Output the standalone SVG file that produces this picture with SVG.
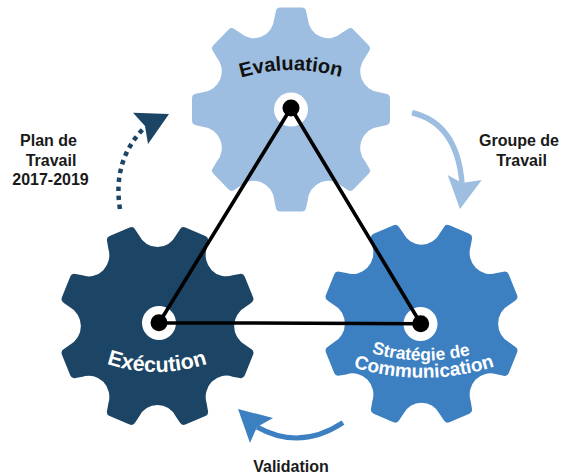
<svg xmlns="http://www.w3.org/2000/svg" xmlns:xlink="http://www.w3.org/1999/xlink" width="561" height="474" viewBox="0 0 561 474">
<style>
text{font-family:"Liberation Sans",Arial,sans-serif;font-weight:bold}
.lbl{font-size:16px;fill:#1a1a1a;text-anchor:middle}
.arc{text-anchor:middle}
.hole{fill:#fff}
.dot{fill:#000}
.link{stroke:#000;stroke-width:3.6;fill:none;stroke-linecap:round}
</style>
<defs>
<path id="gear" d="M-17,-90L-15.5,-97Q-15,-101 -11,-101L11,-101Q15,-101 15.5,-97L17,-90A21,21 0 0 0 51.6,-75.7L57.6,-79.5Q60.8,-82 63.6,-79.2L79.2,-63.6Q82,-60.8 79.5,-57.6L75.7,-51.6A21,21 0 0 0 90,-17L97,-15.5Q101,-15 101,-11L101,11Q101,15 97,15.5L90,17A21,21 0 0 0 75.7,51.6L79.5,57.6Q82,60.8 79.2,63.6L63.6,79.2Q60.8,82 57.6,79.5L51.6,75.7A21,21 0 0 0 17,90L15.5,97Q15,101 11,101L-11,101Q-15,101 -15.5,97L-17,90A21,21 0 0 0 -51.6,75.7L-57.6,79.5Q-60.8,82 -63.6,79.2L-79.2,63.6Q-82,60.8 -79.5,57.6L-75.7,51.6A21,21 0 0 0 -90,17L-97,15.5Q-101,15 -101,11L-101,-11Q-101,-15 -97,-15.5L-90,-17A21,21 0 0 0 -75.7,-51.6L-79.5,-57.6Q-82,-60.8 -79.2,-63.6L-63.6,-79.2Q-60.8,-82 -57.6,-79.5L-51.6,-75.7A21,21 0 0 0 -17,-90Z"/>
<path id="tEval" d="M238,78.5Q291,62 344,78"/>
<path id="tExec" d="M102,362Q157,382 212,362"/>
<path id="tStrat" d="M368,352Q420,368 474,354"/>
<path id="tComm" d="M349,366Q424,390 499,365"/>
</defs>
<g id="evaluation">
<use xlink:href="#gear" href="#gear" transform="translate(291,109.5) scale(.98,1.01)" fill="#9dbee0"/>
<circle class="hole" cx="291" cy="109.5" r="17"/>
<text class="arc" font-size="20" fill="#111"><textPath href="#tEval" xlink:href="#tEval" startOffset="50%">Evaluation</textPath></text>
</g>
<g id="execution">
<use xlink:href="#gear" href="#gear" transform="translate(157.5,326) scale(.98,1.01) rotate(22.5)" fill="#1c4464"/>
<circle class="hole" cx="159" cy="323" r="17"/>
<text class="arc" font-size="21.5" fill="#fff"><textPath href="#tExec" xlink:href="#tExec" startOffset="50%">Exécution</textPath></text>
</g>
<g id="strategie">
<use xlink:href="#gear" href="#gear" transform="translate(421.5,323.7) scale(.98,1.01) rotate(22.5)" fill="#3d80c2"/>
<circle class="hole" cx="420.5" cy="324" r="17"/>
<text class="arc" font-size="17.5" fill="#fff"><textPath href="#tStrat" xlink:href="#tStrat" startOffset="50%">Stratégie de</textPath></text>
<text class="arc" font-size="19" fill="#fff"><textPath href="#tComm" xlink:href="#tComm" startOffset="50%">Communication</textPath></text>
</g>
<g id="connectors">
<path class="link" d="M291,108L159,323M291,108L421,324M159,322.7L421,323.7"/>
<path d="M120,209Q112,160 145,127" fill="none" stroke="#1c4464" stroke-width="4.5" stroke-dasharray="4.5 4.5"/>
<polygon points="133,112.7 169,114 148,144 145,126" fill="#1c4464"/>
<path d="M412,112.7Q457,123 462,183" fill="none" stroke="#9dbee0" stroke-width="5.5"/>
<polygon points="447.7,175 462,183 481.7,180 460,209" fill="#9dbee0"/>
<path d="M343,422.7Q300,451 257,427" fill="none" stroke="#3d80c2" stroke-width="5"/>
<polygon points="238,409 273,418 257,427 250,443" fill="#3d80c2"/>
</g>
<g id="dots">
<circle class="dot" cx="291" cy="108" r="8.5"/>
<circle class="dot" cx="159" cy="322.7" r="8.5"/>
<circle class="dot" cx="420.7" cy="323.7" r="8.5"/>
</g>
<g id="labels">
<text class="lbl" x="48.5" y="146">Plan de</text>
<text class="lbl" x="51" y="165.5">Travail</text>
<text class="lbl" x="50.5" y="185">2017-2019</text>
<text class="lbl" x="519" y="146">Groupe de</text>
<text class="lbl" x="521.5" y="165.5">Travail</text>
<text class="lbl" x="291" y="471.5">Validation</text>
</g>
</svg>
